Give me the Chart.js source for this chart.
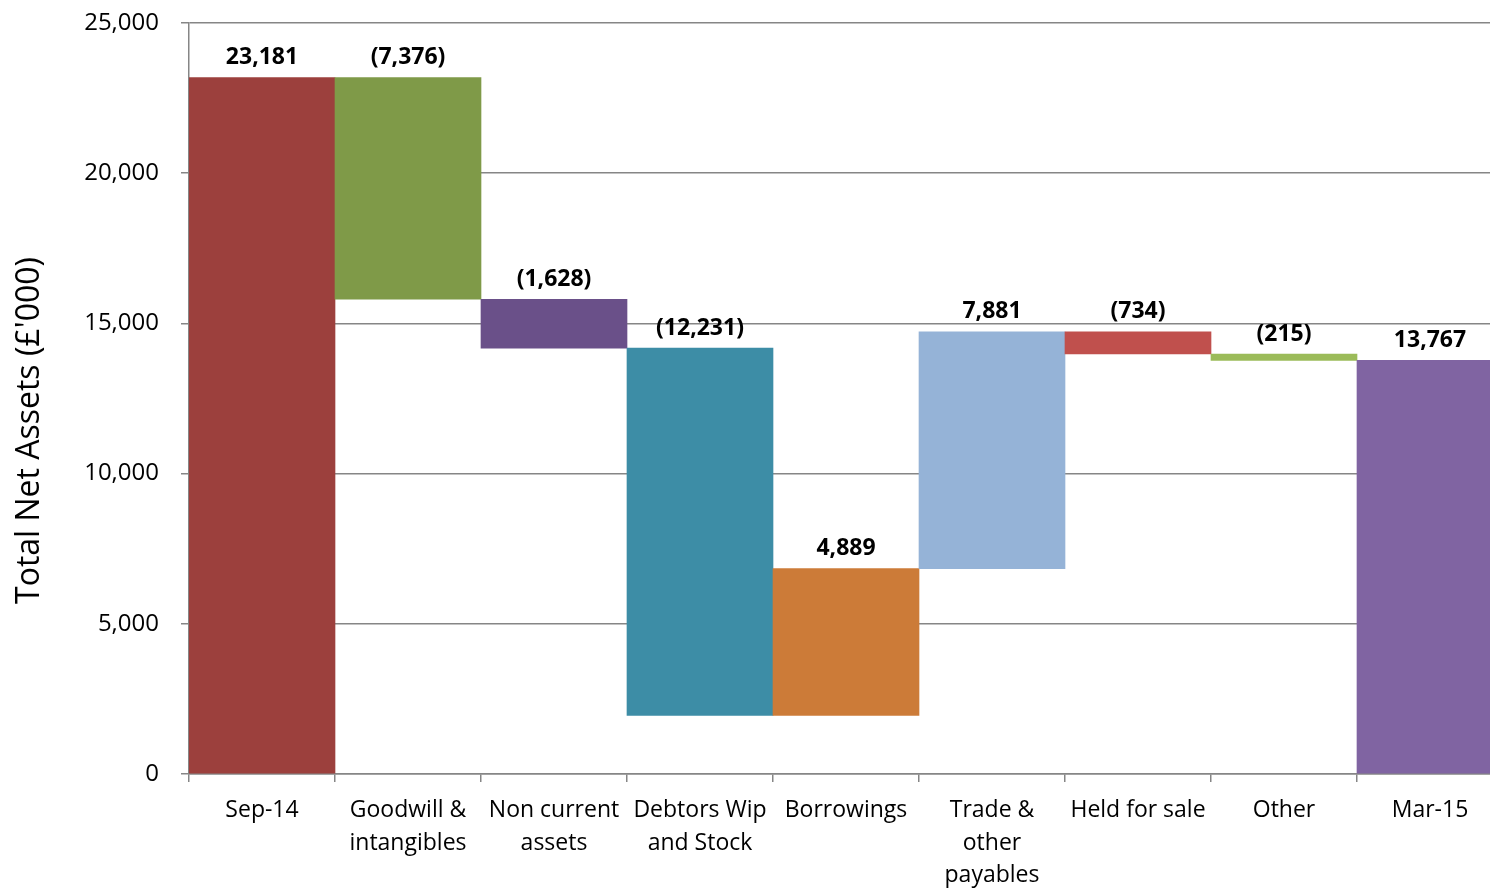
<!DOCTYPE html>
<html>
<head>
<meta charset="utf-8">
<script src="https://cdn.jsdelivr.net/npm/chart.js@4.4.0/dist/chart.umd.min.js"></script>
<style>
  html, body { margin: 0; padding: 0; background: #fff; overflow: hidden; }
  #wrap { width: 1490px; height: 888px; overflow: hidden; position: relative; }
  canvas { position: absolute; left: 0; top: 0; }
</style>
</head>
<body>
<div id="wrap"><canvas id="c" width="1503" height="888"></canvas></div>
<script>
const categories = [
  ['Sep-14'],
  ['Goodwill &', 'intangibles'],
  ['Non current', 'assets'],
  ['Debtors Wip', 'and Stock'],
  ['Borrowings'],
  ['Trade &', 'other', 'payables'],
  ['Held for sale'],
  ['Other'],
  ['Mar-15']
];
// first and last are totals, the rest are changes
const values = [23181, -7376, -1628, -12231, 4889, 7881, -734, -215, 13767];
const isTotal = [true, false, false, false, false, false, false, false, true];
const barColors = ['#9C403D', '#7F9A48', '#6A5089', '#3D8DA6', '#CC7B38', '#95B3D7', '#C0504D', '#9BBB59', '#8064A2'];
const yTicks = [0, 5000, 10000, 15000, 20000, 25000];
const yTitle = "Total Net Assets (£'000)";

// build floating ranges
let running = 0;
const ranges = values.map((v, i) => {
  if (isTotal[i]) { running = v; return [0, v]; }
  const start = running;
  running += v;
  return [Math.min(start, running), Math.max(start, running)];
});

const fmt = n => Math.abs(n).toLocaleString('en-GB');
const labelText = values.map(v => v < 0 ? '(' + fmt(v) + ')' : fmt(v));

const FONT = "'Open Sans', 'DejaVu Sans', sans-serif";
const GRID = '#868686';

const labelPlugin = {
  id: 'barLabels',
  afterDatasetsDraw(chart) {
    const ctx = chart.ctx;
    const meta = chart.getDatasetMeta(0);
    ctx.save();
    ctx.font = 'bold 23px ' + FONT;
    ctx.fillStyle = '#000';
    ctx.textAlign = 'center';
    ctx.textBaseline = 'middle';
    meta.data.forEach((bar, i) => {
      const top = Math.min(bar.y, bar.base);
      ctx.fillText(labelText[i], bar.x, top - 20);
    });
    ctx.restore();
  }
};

// y-axis title, placed a little below the plot centre as in the reference
const yTitlePlugin = {
  id: 'yTitle',
  afterDraw(chart) {
    const ctx = chart.ctx;
    const area = chart.chartArea;
    const cy = (area.top + area.bottom) / 2 + 32;
    ctx.save();
    ctx.translate(30, cy);
    ctx.rotate(-Math.PI / 2);
    ctx.font = '32px ' + FONT;
    ctx.fillStyle = '#000';
    ctx.textAlign = 'center';
    ctx.textBaseline = 'middle';
    ctx.fillText(yTitle, 0, 0);
    ctx.restore();
  }
};

new Chart(document.getElementById('c'), {
  type: 'bar',
  data: {
    labels: categories,
    datasets: [{
      data: ranges,
      backgroundColor: barColors,
      borderWidth: 0,
      barPercentage: 1.0,
      categoryPercentage: 1.0
    }]
  },
  options: {
    responsive: false,
    devicePixelRatio: 1,
    animation: false,
    layout: { padding: { top: 0, right: 0, bottom: 0, left: 0 } },
    plugins: { legend: { display: false }, tooltip: { enabled: false } },
    scales: {
      x: {
        grid: { offset: true, drawOnChartArea: false, color: GRID, tickLength: 8, lineWidth: 1.5 },
        border: { color: GRID, width: 1.5 },
        ticks: {
          color: '#000',
          font: { family: FONT, size: 23, lineHeight: 1.42 },
          padding: 12,
          maxRotation: 0,
          autoSkip: false
        },
        afterFit(scale) { scale.height = 114; }
      },
      y: {
        min: 0,
        max: 25000,
        afterBuildTicks(scale) { scale.ticks = yTicks.map(v => ({ value: v })); },
        grid: { color: GRID, tickLength: 8, lineWidth: 1.5 },
        border: { color: GRID, width: 1.5 },
        ticks: {
          color: '#000',
          font: { family: FONT, size: 24 },
          padding: 22,
          callback: v => v.toLocaleString('en-GB')
        },
        title: { display: false },
        afterFit(scale) {
          scale.width = 189;
          scale.paddingTop = 23;
          scale.paddingBottom = 0;
        }
      }
    }
  },
  plugins: [labelPlugin, yTitlePlugin]
});
</script>
</body>
</html>
